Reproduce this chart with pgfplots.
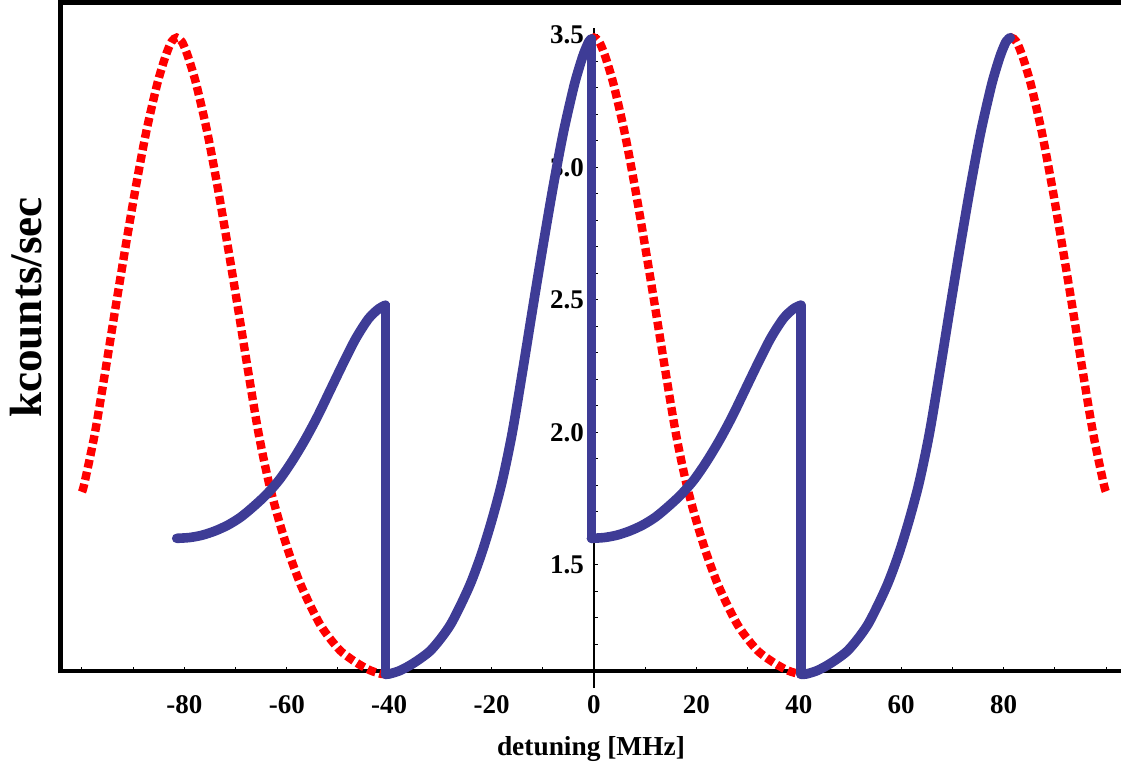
\documentclass[border=0pt]{standalone}
\usepackage{fontspec}
\setmainfont{Liberation Serif}
\usepackage{pgfplots}
\pgfplotsset{compat=1.18}
\definecolor{curveblue}{RGB}{62,60,150}
\definecolor{dotred}{RGB}{255,0,0}

\begin{document}
\begin{tikzpicture}
\begin{axis}[
  name=ax,
  scale only axis, width=530pt, height=343pt,
  xmin=-104.1, xmax=102.93, ymin=1.035, ymax=3.6245,
  axis x line=bottom, axis y line=middle,
  axis x line shift=-8.6pt,
  hide obscured x ticks=false, hide obscured y ticks=false,
  x axis line style={-, line width=2.2pt},
  y axis line style={-, line width=0.6pt, shorten >=13pt},
  xtick={-80,-60,-40,-20,0,20,40,60,80},
  xticklabels={-80,-60,-40,-20,0,20,40,60,80},
  minor xtick={-100,-90,...,100},
  ytick={1.5,2,2.5,3,3.5}, yticklabels={1.5,2.0,2.5,3.0,3.5},
  minor ytick={1.2,1.3,1.4,1.6,1.7,1.8,1.9,2.1,2.2,2.3,2.4,2.6,2.7,2.8,2.9,3.1,3.2,3.3,3.4},
  xtick align=inside, ytick align=inside,
  major tick length=2pt, minor tick length=2pt,
  tick style={black, line width=0.5pt},
  ticklabel style={font=\fontsize{13.5}{16}\selectfont\bfseries},
  xticklabel style={yshift=-9pt},
  yticklabel style={xshift=-1.5pt},
  every axis x label/.style={at={([yshift=-33.5pt]rel axis cs:0.5,0)}, anchor=base,
    font=\fontsize{13.7}{16}\selectfont\bfseries},
  every axis y label/.style={at={([xshift=-17.5pt]rel axis cs:0,0.5547)}, anchor=center,
    rotate=90, font=\fontsize{22.6}{26}\selectfont\bfseries},
  xlabel={detuning [MHz]}, ylabel={kcounts/sec},
  clip=false,
]

% frame (left and top)
\draw[line width=2.5pt, line join=miter] (axis cs:-104.1,1.09) -- (axis cs:-104.1,3.6245) -- (axis cs:106,3.6245);

% red: reference signal
\addplot[dotred, line width=4.2pt, dash pattern=on 4.2pt off 2pt, smooth] table {
x y
-100 1.775
-99.5 1.81
-97.5 1.995
-95.5 2.225
-93.5 2.465
-91.5 2.70
-89.5 2.925
-87.5 3.13
-85.5 3.30
-84.5 3.37
-83.5 3.43
-82.5 3.475
-81.5 3.49
-80.5 3.475
-79.5 3.43
-78.5 3.37
-77.5 3.30
-75.5 3.13
-73.5 2.925
-71.5 2.70
-69.5 2.465
-67.5 2.225
-65.5 1.995
-63.5 1.81
-61.5 1.665
-59.5 1.54
-57.5 1.435
-55.5 1.35
-53.5 1.275
-51.5 1.22
-49.5 1.175
-47.5 1.145
-45.5 1.12
-43.5 1.10
-41.5 1.088
-40.75 1.087
-40 1.088
-38 1.10
-36 1.12
-34 1.145
-32 1.175
-30 1.22
-28 1.275
-26 1.35
-24 1.435
-22 1.54
-20 1.665
-18 1.81
-16 1.995
-14 2.225
-12 2.465
-10 2.70
-8 2.925
-6 3.13
-4 3.30
-3 3.37
-2 3.43
-1 3.475
0 3.49
1 3.475
2 3.43
3 3.37
4 3.30
6 3.13
8 2.925
10 2.70
12 2.465
14 2.225
16 1.995
18 1.81
20 1.665
22 1.54
24 1.435
26 1.35
28 1.275
30 1.22
32 1.175
34 1.145
36 1.12
38 1.10
40 1.088
40.75 1.087
41.5 1.088
43.5 1.10
45.5 1.12
47.5 1.145
49.5 1.175
51.5 1.22
53.5 1.275
55.5 1.35
57.5 1.435
59.5 1.54
61.5 1.665
63.5 1.81
65.5 1.995
67.5 2.225
69.5 2.465
71.5 2.70
73.5 2.925
75.5 3.13
77.5 3.30
78.5 3.37
79.5 3.43
80.5 3.475
81.5 3.49
82.5 3.475
83.5 3.43
84.5 3.37
85.5 3.30
87.5 3.13
89.5 2.925
91.5 2.70
93.5 2.465
95.5 2.225
97.5 1.995
99.5 1.81
100 1.775
};

% blue: measured signal, in pieces
\pgfplotsset{bluecurve/.style={curveblue, line width=4.8pt, line cap=round, line join=round}}
\addplot[bluecurve, smooth] table {
x y
-81.5 1.60
-79 1.603
-76.5 1.612
-74 1.628
-71.5 1.65
-69 1.68
-66.5 1.72
-64 1.765
-61.5 1.82
-59 1.89
-56.5 1.97
-54 2.06
-51.5 2.16
-49 2.26
-46.5 2.355
-44 2.43
-42 2.467
-40.75 2.48
};
\addplot[bluecurve] table {
x y
-40.75 2.48
-40.75 1.087
};
\addplot[bluecurve, smooth] table {
x y
-40.75 1.087
-40 1.088
-38 1.10
-36 1.12
-34 1.145
-32 1.175
-30 1.22
-28 1.275
-26 1.35
-24 1.435
-22 1.54
-20 1.665
-18 1.81
-16 1.995
-14 2.225
-12 2.465
-10 2.70
-8 2.925
-6 3.13
-4 3.30
-3 3.37
-2 3.43
-1 3.475
-0.5 3.485
};
\addplot[bluecurve] table {
x y
-0.5 3.485
-0.5 1.60
};
\addplot[bluecurve, smooth] table {
x y
-0.5 1.60
2 1.603
4.5 1.612
7 1.628
9.5 1.65
12 1.68
14.5 1.72
17 1.765
19.5 1.82
22 1.89
24.5 1.97
27 2.06
29.5 2.16
32 2.26
34.5 2.355
37 2.43
39 2.467
40.4 2.48
};
\addplot[bluecurve] table {
x y
40.4 2.48
40.4 1.087
};
\addplot[bluecurve, smooth] table {
x y
40.4 1.087
40.75 1.087
41.5 1.088
43.5 1.10
45.5 1.12
47.5 1.145
49.5 1.175
51.5 1.22
53.5 1.275
55.5 1.35
57.5 1.435
59.5 1.54
61.5 1.665
63.5 1.81
65.5 1.995
67.5 2.225
69.5 2.465
71.5 2.70
73.5 2.925
75.5 3.13
77.5 3.30
78.5 3.37
79.5 3.43
80.5 3.475
81.3 3.49
};
\end{axis}
\pgfresetboundingbox
\useasboundingbox ([xshift=-30.5pt,yshift=-43pt]ax.south west) rectangle ([yshift=1pt]ax.north east);
\end{tikzpicture}
\end{document}
